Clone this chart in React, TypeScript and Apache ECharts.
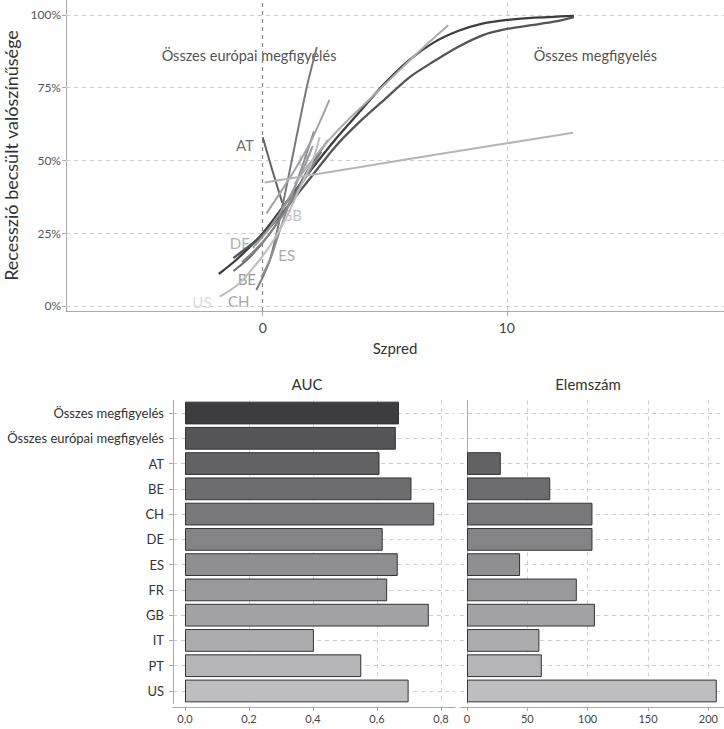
import React, { useEffect, useRef } from "react";
import * as echarts from "echarts";

// ---------- bottom panels ----------
const categories = [
  "Összes megfigyelés",
  "Összes európai megfigyelés",
  "AT", "BE", "CH", "DE", "ES", "FR", "GB", "IT", "PT", "US",
];
const aucValues = [0.669, 0.659, 0.608, 0.708, 0.779, 0.618, 0.665, 0.632, 0.762, 0.403, 0.551, 0.699];
const countValues = [null, null, 28, 69, 104, 104, 44, 91, 106, 60, 62, 207];
const barColors = [
  "#3d3d3f", "#555557", "#626265", "#6d6d70", "#79797c", "#848487",
  "#8f8f92", "#99999c", "#a3a3a6", "#acacaf", "#b5b5b8", "#bebec1",
];
const aucTicks = [0, 0.2, 0.4, 0.6, 0.8];
const countTicks = [0, 50, 100, 150, 200];

// ---------- top panel: fitted curves (spread, probability) ----------
const curveOsszes = [[-1.8, 0.11], [-1, 0.165], [0, 0.25], [1, 0.36], [2, 0.47], [3, 0.575], [4, 0.67], [5, 0.765], [6, 0.845], [7, 0.905], [8, 0.945], [9, 0.97], [10, 0.983], [11, 0.99], [12.75, 0.997]];
const curveEuropai = [[-1.2, 0.165], [0, 0.245], [1, 0.34], [2, 0.445], [3, 0.55], [4, 0.635], [5, 0.71], [6, 0.785], [7, 0.84], [8, 0.89], [9, 0.93], [10, 0.952], [11, 0.965], [12, 0.978], [12.75, 0.993]];
const curveAT = [[0, 0.58], [0.4, 0.465], [0.8, 0.355]];
const curveBE = [[-1.2, 0.12], [-0.5, 0.17], [0.3, 0.25], [1, 0.34], [1.8, 0.46], [2.67, 0.57]];
const curveCH = [[-0.26, 0.055], [0.3, 0.16], [0.8, 0.34], [1.25, 0.525], [1.8, 0.75], [2.22, 0.89]];
const curveDE = [[-0.85, 0.15], [0, 0.22], [0.8, 0.31], [1.6, 0.42], [2.4, 0.53]];
const curveES = [[-0.05, 0.1], [0.35, 0.17], [0.7, 0.26], [1.2, 0.38], [1.7, 0.5], [2.1, 0.6]];
const curveFR = [[-0.4, 0.2], [0.3, 0.27], [1, 0.36], [1.6, 0.46], [2.05, 0.55]];
const curveGB = [[0.15, 0.318], [0.8, 0.4], [1.4, 0.48], [2, 0.57], [2.73, 0.708]];
const curveIT = [[1.3, 0.42], [2.5, 0.55], [3.5, 0.64], [4.5, 0.72], [5.6, 0.81], [6.6, 0.89], [7.6, 0.965]];
const curvePT = [[0.08, 0.424], [4, 0.478], [10, 0.559], [12.72, 0.595]];
const curveUS = [[-1.76, 0.032], [-1, 0.075], [-0.3, 0.14], [0.4, 0.22], [1, 0.31], [1.6, 0.42], [2.05, 0.5], [2.33, 0.58]];
const curves = [curveOsszes, curveEuropai, curveAT, curveBE, curveCH, curveDE, curveES, curveFR, curveGB, curveIT, curvePT, curveUS];

const spreadTicks = [0, 10];
const probTicks = [0, 0.25, 0.5, 0.75, 1];

// label anchors (spread, probability)
const countryLabels = [
  ["AT", -0.73, 0.553, "#48484a"],
  ["DE", -0.94, 0.216, "#9a9a9c"],
  ["BE", -0.65, 0.093, "#808082"],
  ["US", -2.49, 0.014, "#d2d2d4"],
  ["CH", -0.98, 0.017, "#8c8c8e"],
  ["ES", 0.98, 0.175, "#939395"],
  ["GB", 1.18, 0.313, "#b3b3b5"],
  ["IT", 1.71, 0.5, "#b8b8ba"],
];
const annotations = [
  ["Összes európai megfigyelés", -0.56, 0.862],
  ["Összes megfigyelés", 13.63, 0.862],
];

const GRID = "#cfcfcf";
const AXIS = "#aaaaaa";

export default function App() {
  const ref = useRef<HTMLDivElement>(null);
  useEffect(() => {
    if (!ref.current) return;
    const chart = echarts.init(ref.current, undefined, { renderer: "svg" });

    const dash = { type: [4, 4] as any, color: GRID, width: 1 };
    const ml = (data: any[], style: any, z: number) => ({
      silent: true,
      z,
      symbol: ["none", "none"],
      label: { show: false },
      lineStyle: style,
      data,
    });

    const lineSeries = curves.map((c, i) => ({
      type: "line",
      name: categories[i],
      xAxisIndex: 0,
      yAxisIndex: 0,
      data: c,
      showSymbol: false,
      smooth: 0.3,
      z: 3,
      lineStyle: { width: i < 2 ? 2.3 : 2, color: barColors[i] },
      itemStyle: { color: barColors[i] },
    }));

    const option: any = {
      animation: false,
      backgroundColor: "#ffffff",
      textStyle: { fontFamily: "Lato" },
      grid: [
        { left: 66, top: 0, right: 0, height: 311, outerBoundsMode: "none" },
        { left: 173, top: 400.4, width: 282, height: 303.2, outerBoundsMode: "none" },
        { left: 460, top: 400.4, width: 264, height: 303.2, outerBoundsMode: "none" },
      ],
      xAxis: [
        {
          type: "value", gridIndex: 0, min: -8.06, max: 18.9,
          name: "Szpred", nameLocation: "middle", nameGap: 29,
          nameTextStyle: { fontSize: 15, color: "#333" },
          axisLine: { show: true, onZero: false, lineStyle: { color: AXIS } },
          axisTick: { show: true, length: 5, customValues: spreadTicks, lineStyle: { color: AXIS } },
          axisLabel: { customValues: spreadTicks, fontSize: 14, color: "#444", margin: 9 },
          splitLine: { show: false },
        },
        {
          type: "value", gridIndex: 1, min: -0.0375, max: 0.844, offset: 3.4,
          axisLine: { show: true, onZero: false, lineStyle: { color: AXIS } },
          axisTick: { show: true, length: 4, customValues: aucTicks, lineStyle: { color: AXIS } },
          axisLabel: {
            customValues: aucTicks, fontSize: 11, color: "#444", margin: 6,
            formatter: (v: number) => v.toFixed(1).replace(".", ","),
          },
          splitLine: { show: false },
        },
        {
          type: "value", gridIndex: 2, min: -5.8, max: 213, offset: 3.4,
          axisLine: { show: true, onZero: false, lineStyle: { color: AXIS } },
          axisTick: { show: true, length: 4, customValues: countTicks, lineStyle: { color: AXIS } },
          axisLabel: { customValues: countTicks, fontSize: 11, color: "#444", margin: 6 },
          splitLine: { show: false },
        },
      ],
      yAxis: [
        {
          type: "value", gridIndex: 0, min: -0.0172, max: 1.0515,
          name: "Recesszió becsült valószínűsége", nameLocation: "middle", nameGap: 42,
          nameTextStyle: { fontSize: 18, color: "#333" },
          axisLine: { show: true, onZero: false, lineStyle: { color: AXIS } },
          axisTick: { show: true, length: 4, customValues: probTicks, lineStyle: { color: AXIS } },
          axisLabel: {
            customValues: probTicks, fontSize: 12, color: "#555", margin: 5,
            formatter: (v: number) => Math.round(v * 100) + "%",
          },
          splitLine: { show: false },
        },
        {
          type: "category", gridIndex: 1, data: categories, inverse: true,
          axisLine: { show: true, onZero: false, lineStyle: { color: AXIS } },
          axisTick: { show: true, length: 4, alignWithLabel: true, lineStyle: { color: AXIS } },
          axisLabel: { fontSize: 13, color: "#333", margin: 9 },
          splitLine: { show: false },
        },
        {
          type: "category", gridIndex: 2, data: categories, inverse: true,
          axisLine: { show: true, onZero: true, lineStyle: { color: AXIS } },
          axisTick: { show: false },
          axisLabel: { show: false },
          splitLine: { show: false },
        },
      ],
      graphic: [
        { type: "text", x: 307, y: 384, style: { text: "AUC", fontFamily: "Lato", fontSize: 15, fill: "#333", textAlign: "center", textVerticalAlign: "middle" } },
        { type: "text", x: 588, y: 384, style: { text: "Elemszám", fontFamily: "Lato", fontSize: 15, fill: "#333", textAlign: "center", textVerticalAlign: "middle" } },
      ],
      series: [
        // top grid lines
        {
          type: "line", xAxisIndex: 0, yAxisIndex: 0, data: [], z: 2,
          markLine: ml(probTicks.map((v) => ({ yAxis: v })), dash, 2),
        },
        {
          type: "line", xAxisIndex: 0, yAxisIndex: 0, data: [], z: 2,
          markLine: ml([{ xAxis: 10 }], dash, 2),
        },
        {
          type: "line", xAxisIndex: 0, yAxisIndex: 0, data: [], z: 2,
          markLine: ml([{ xAxis: 0 }], { type: [4, 4], color: "#888", width: 1.2 }, 2),
        },
        // labels below lines
        {
          type: "scatter", xAxisIndex: 0, yAxisIndex: 0, z: 1, silent: true,
          symbolSize: 1, itemStyle: { color: "rgba(0,0,0,0)" },
          data: countryLabels.map((l) => ({
            name: l[0], value: [l[1], l[2]],
            label: { color: l[3] },
          })),
          label: { show: true, position: "inside", fontSize: 15, formatter: (p: any) => p.name },
        },
        {
          type: "scatter", xAxisIndex: 0, yAxisIndex: 0, z: 1, silent: true,
          symbolSize: 1, itemStyle: { color: "rgba(0,0,0,0)" },
          data: annotations.map((a) => ({ name: a[0], value: [a[1], a[2]] })),
          label: { show: true, position: "inside", fontSize: 14.5, color: "#222", formatter: (p: any) => p.name },
        },
        ...lineSeries,
        // bottom grid lines
        {
          type: "line", xAxisIndex: 1, yAxisIndex: 1, data: [], z: 0,
          markLine: ml([
            ...categories.map((c) => ({ yAxis: c })),
            ...aucTicks.slice(1).map((v) => ({ xAxis: v })),
          ], dash, 0),
        },
        {
          type: "line", xAxisIndex: 2, yAxisIndex: 2, data: [], z: 0,
          markLine: ml([
            ...categories.map((c) => ({ yAxis: c })),
            ...countTicks.slice(1).map((v) => ({ xAxis: v })),
          ], dash, 0),
        },
        {
          type: "bar", xAxisIndex: 1, yAxisIndex: 1, z: 2, barCategoryGap: "10%",
          data: aucValues.map((v, i) => ({ value: v, itemStyle: { color: barColors[i] } })),
          itemStyle: { borderColor: "#333", borderWidth: 1 },
        },
        {
          type: "bar", xAxisIndex: 2, yAxisIndex: 2, z: 2, barCategoryGap: "10%",
          data: countValues.map((v, i) => ({ value: v == null ? "-" : v, itemStyle: { color: barColors[i] } })),
          itemStyle: { borderColor: "#333", borderWidth: 1 },
        },
      ],
    };

    chart.setOption(option);
    return () => chart.dispose();
  }, []);

  return (
    <div
      ref={ref}
      style={{ position: "fixed", left: 0, top: 0, width: 724, height: 729, background: "#fff" }}
    />
  );
}
